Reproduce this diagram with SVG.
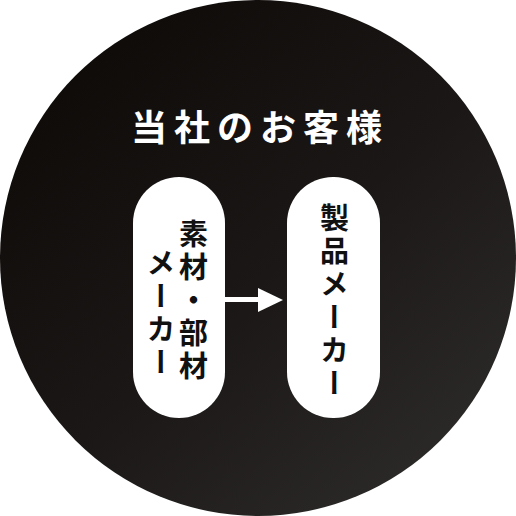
<svg xmlns="http://www.w3.org/2000/svg" width="516" height="516" viewBox="0 0 516 516">
<defs>
<linearGradient id="bg" x1="0.15" y1="0.1" x2="0.9" y2="0.95">
<stop offset="0" stop-color="#0f0b09"/>
<stop offset="0.5" stop-color="#1a1716"/>
<stop offset="1" stop-color="#2e2c2b"/>
</linearGradient>
<style>
.title{font-family:"Noto Sans CJK JP","Noto Sans CJK SC",sans-serif;font-weight:700;font-size:36px;fill:#ffffff;letter-spacing:7px}
.vt{font-family:"Noto Sans CJK JP","Noto Sans CJK SC",sans-serif;font-weight:700;font-size:29px;fill:#111111;writing-mode:vertical-rl;letter-spacing:4px}
.pill{fill:#ffffff}
</style>
</defs>
<rect width="516" height="516" fill="#ffffff"/>
<circle cx="258" cy="258" r="258" fill="url(#bg)"/>
<g id="title">
<text class="title" x="260" y="141" text-anchor="middle">当社のお客様</text>
</g>
<g id="node-supplier">
<rect class="pill" x="133" y="177" width="92" height="241" rx="46" ry="46"/>
<text class="vt" x="193.5" y="219">素材・部材</text>
<text class="vt" x="161" y="248">メーカー</text>
</g>
<g id="node-maker">
<rect class="pill" x="287" y="177" width="93" height="241" rx="46" ry="46"/>
<text class="vt" x="334.5" y="203">製品メーカー</text>
</g>
<g id="connectors">
<line x1="225" y1="299.5" x2="260" y2="299.5" stroke="#ffffff" stroke-width="5"/>
<polygon points="258,288 283,300 258,312" fill="#ffffff"/>
</g>
</svg>
